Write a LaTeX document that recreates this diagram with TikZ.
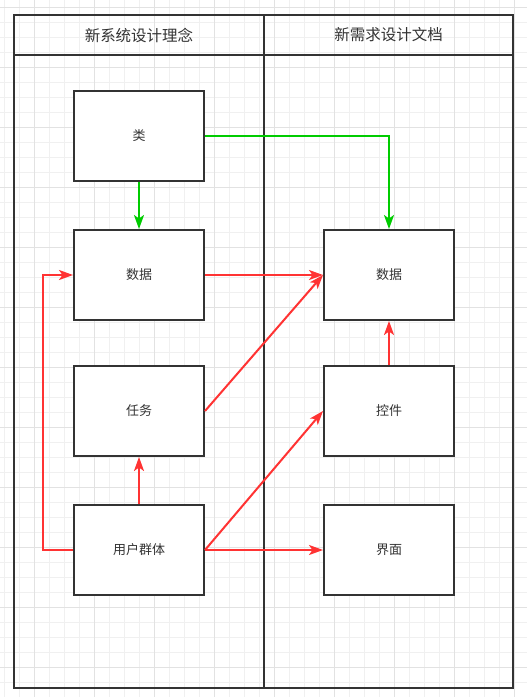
\documentclass[tikz,border=0pt]{standalone}
\usepackage{fontspec}
\setmainfont{Noto Sans CJK SC}
\usetikzlibrary{arrows.meta}
\definecolor{gridminor}{HTML}{F0F0F0}
\definecolor{gridmajor}{HTML}{E2E2E2}
\definecolor{ink}{HTML}{333333}
\definecolor{flowgreen}{HTML}{00CC00}
\definecolor{flowred}{HTML}{FF3333}
\tikzset{
  box/.style={draw=ink, line width=2pt, fill=white, minimum width=130pt, minimum height=90pt, inner sep=0pt, text=ink, font=\fontsize{13pt}{15pt}\selectfont},
  lanehead/.style={draw=ink, line width=2pt, minimum height=40pt, inner sep=0pt, text=ink, font=\fontsize{15.5pt}{18pt}\selectfont},
  lanebody/.style={draw=ink, line width=2pt, minimum height=633pt, inner sep=0pt},
  flow/.style={line width=2pt, -{Stealth[length=14pt,width=10pt,inset=3.5pt]}},
  greenflow/.style={flow, draw=flowgreen},
  redflow/.style={flow, draw=flowred}
}
\begin{document}
\begin{tikzpicture}[x=1pt,y=-1pt]
\useasboundingbox (0,0) rectangle (527,697);
\fill[white] (0,0) rectangle (527,697);
% grid
\foreach \i in {0,...,35} \draw[gridminor, line width=1pt] (4.5+15*\i,0) -- (4.5+15*\i,697);
\foreach \j in {0,...,46} \draw[gridminor, line width=1pt] (0,7.5+15*\j) -- (527,7.5+15*\j);
\foreach \i in {0,...,8} \draw[gridmajor, line width=1pt] (34.5+60*\i,0) -- (34.5+60*\i,697);
\foreach \j in {0,...,11} \draw[gridmajor, line width=1pt] (0,7.5+60*\j) -- (527,7.5+60*\j);
% lanes
\node[lanebody, minimum width=250pt] (bodyA) at (139,371.5) {};
\node[lanebody, minimum width=249pt] (bodyB) at (388.5,371.5) {};
\node[lanehead, minimum width=250pt] (headA) at (139,35) {新系统设计理念};
\node[lanehead, minimum width=249pt] (headB) at (388.5,35) {新需求设计文档};
% boxes
\node[box] (lei) at (139,136) {类};
\node[box] (dataL) at (139,275) {数据};
\node[box] (task) at (139,411) {任务};
\node[box] (user) at (139,550) {用户群体};
\node[box] (dataR) at (389,275) {数据};
\node[box] (ctrl) at (389,411) {控件};
\node[box] (ui) at (389,550) {界面};
% connectors
\draw[greenflow] (lei.east) -| (dataR.north);
\draw[greenflow] (lei.south) -- (dataL.north);
\draw[redflow] (dataL.east) -- (dataR.west);
\draw[redflow] (task.east) -- (dataR.west);
\draw[redflow] (user.north) -- (task.south);
\draw[redflow] (user.west) -- ++(-30,0) |- (dataL.west);
\draw[redflow] (user.east) -- (ctrl.west);
\draw[redflow] (user.east) -- (ui.west);
\draw[redflow] (ctrl.north) -- (dataR.south);
\end{tikzpicture}
\end{document}
